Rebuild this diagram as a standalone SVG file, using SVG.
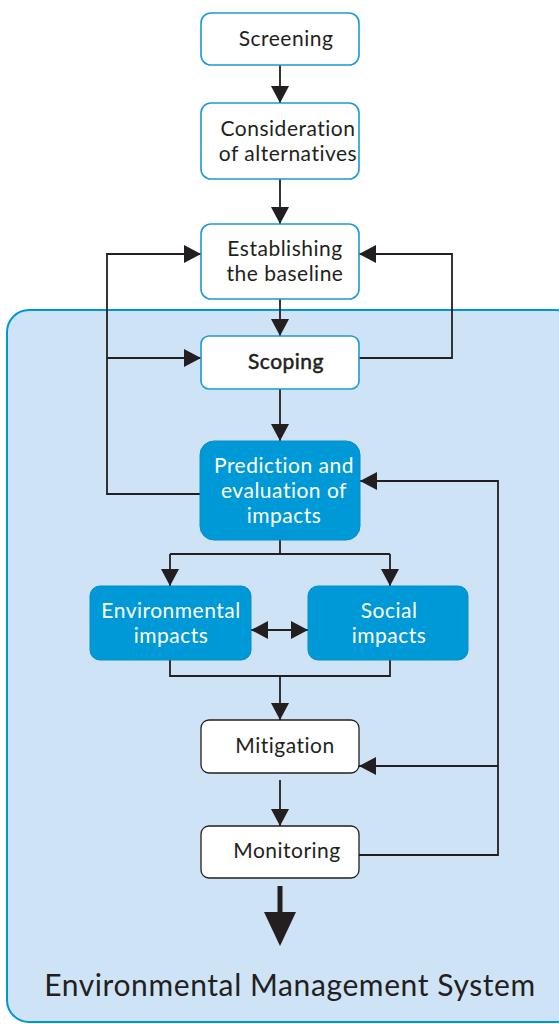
<svg xmlns="http://www.w3.org/2000/svg" width="559" height="1024" viewBox="0 0 559 1024">
<style>
.lt{fill:#fff;stroke:#1b9ad6;stroke-width:1.6}
.dk{fill:#fff;stroke:#231f20;stroke-width:1.3}
.bl{fill:#0099d8;stroke:#0a8cc8;stroke-width:1}
text{font-family:Lato,"Open Sans",sans-serif;font-size:21px;letter-spacing:0.5px;text-anchor:middle;font-variant-ligatures:none}
.t{fill:#231f20}
.w{fill:#fff}
.c{fill:none;stroke:#231f20;stroke-width:1.8}
</style>
<defs>
<marker id="ah" markerUnits="userSpaceOnUse" markerWidth="20" markerHeight="20" refX="17" refY="9" orient="auto-start-reverse">
<path d="M0,0 L17,9 L0,18 Z" fill="#231f20"/>
</marker>
</defs>
<g id="ems">
<rect x="7" y="310" width="570" height="712" rx="22" fill="#cfe3f6" stroke="#0096d6" stroke-width="2"/>
<text x="290" y="996" class="t" style="font-size:30px;letter-spacing:0.6px">Environmental Management System</text>
</g>
<g id="connectors">
<path class="c" d="M280,65 V103" marker-end="url(#ah)"/>
<path class="c" d="M280,179 V224" marker-end="url(#ah)"/>
<path class="c" d="M280,299 V336" marker-end="url(#ah)"/>
<path class="c" d="M280,389 V441" marker-end="url(#ah)"/>
<path class="c" d="M200,494 H107 V254 H201" marker-end="url(#ah)"/>
<path class="c" d="M107,358 H201" marker-end="url(#ah)"/>
<path class="c" d="M359,358 H452 V254 H359" marker-end="url(#ah)"/>
<path class="c" d="M280,540 V554"/>
<path class="c" d="M170,554 H390"/>
<path class="c" d="M170,554 V586" marker-end="url(#ah)"/>
<path class="c" d="M390,554 V586" marker-end="url(#ah)"/>
<path class="c" d="M251,630 H308" marker-start="url(#ah)" marker-end="url(#ah)"/>
<path class="c" d="M170,660 V676 H390 V660"/>
<path class="c" d="M280,676 V720" marker-end="url(#ah)"/>
<path class="c" d="M280,780 V826" marker-end="url(#ah)"/>
<path class="c" d="M359,855 H498 V481 H360" marker-end="url(#ah)"/>
<path class="c" d="M498,766 H359" marker-end="url(#ah)"/>
<path d="M280,886 V916" stroke="#231f20" stroke-width="5" fill="none"/>
<path d="M264,912 L296,912 L280,946 Z" fill="#231f20"/>
</g>
<g id="screening">
<rect class="lt" x="201" y="13" width="158" height="52" rx="10"/>
<text x="286" y="46" class="t">Screening</text>
</g>
<g id="consideration">
<rect class="lt" x="201" y="103" width="158" height="76" rx="10"/>
<text x="288" y="136" class="t">Consideration</text>
<text x="288" y="161" class="t">of alternatives</text>
</g>
<g id="baseline">
<rect class="lt" x="201" y="224" width="158" height="75" rx="10"/>
<text x="285" y="256" class="t">Establishing</text>
<text x="285" y="281" class="t">the baseline</text>
</g>
<g id="scoping">
<rect class="lt" x="201" y="336" width="158" height="53" rx="8"/>
<text x="286" y="369" class="t" style="stroke:#231f20;stroke-width:0.5">Scoping</text>
</g>
<g id="prediction">
<rect class="bl" x="200" y="441" width="160" height="99" rx="14"/>
<text x="284" y="473" class="w">Prediction and</text>
<text x="284" y="498" class="w">evaluation of</text>
<text x="284" y="523" class="w">impacts</text>
</g>
<g id="environmental">
<rect class="bl" x="90" y="586" width="161" height="74" rx="10"/>
<text x="171" y="618" class="w">Environmental</text>
<text x="171" y="643" class="w">impacts</text>
</g>
<g id="social">
<rect class="bl" x="308" y="586" width="160" height="74" rx="10"/>
<text x="389" y="618" class="w">Social</text>
<text x="389" y="643" class="w">impacts</text>
</g>
<g id="mitigation">
<rect class="dk" x="201" y="720" width="158" height="53" rx="8"/>
<text x="285" y="753" class="t">Mitigation</text>
</g>
<g id="monitoring">
<rect class="dk" x="201" y="826" width="158" height="52" rx="8"/>
<text x="287" y="858" class="t">Monitoring</text>
</g>
</svg>
